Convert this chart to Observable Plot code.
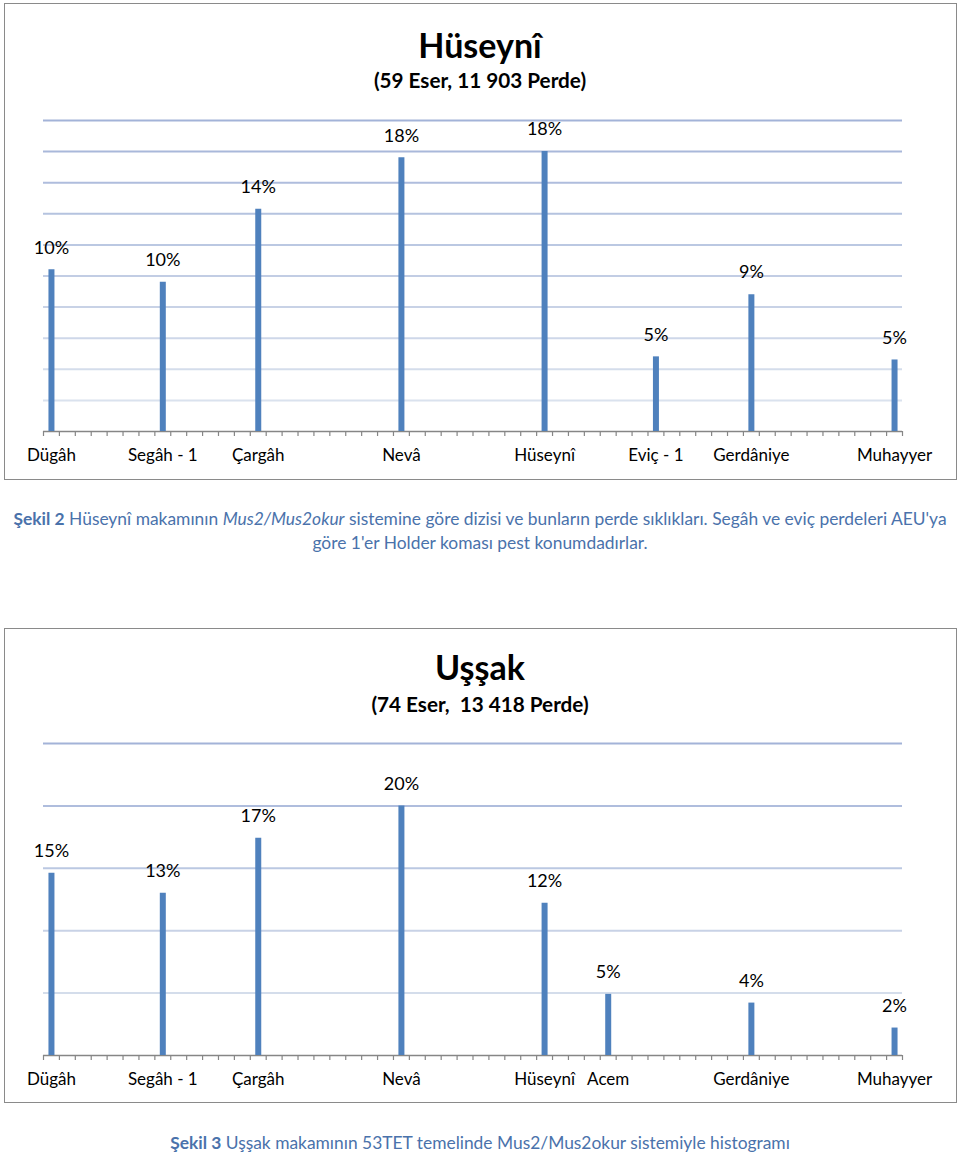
<!DOCTYPE html>
<html>
<head>
<meta charset="utf-8">
<script src="https://cdn.jsdelivr.net/npm/d3@7"></script>
<script src="https://cdn.jsdelivr.net/npm/@observablehq/plot@0.6"></script>
<style>
  html, body { margin: 0; padding: 0; background: #fff; }
  body { position: relative; width: 960px; height: 1161px; font-family: Lato, "Open Sans", sans-serif; overflow: hidden; }
  .box { position: absolute; left: 4px; width: 953px; box-sizing: border-box; border: 1.5px solid #8a8a8a; background: #fff; }
  .abs { position: absolute; left: 0; width: 960px; text-align: center; white-space: nowrap; color: #000; }
  .title { font-weight: 700; font-size: 34px; line-height: 40px; }
  .subtitle { font-weight: 700; font-size: 20.7px; line-height: 24px; }
  .caption { color: #4a72ab; font-size: 17.4px; line-height: 24px; }
  .caption b { font-weight: 700; }
  .chart { position: absolute; left: 0; }
  .chart svg { background: transparent !important; overflow: visible; }
</style>
</head>
<body>
<script>
// ---------- data ----------
const huseyniNotes  = ["Dügâh", "Segâh - 1", "Çargâh", "Nevâ", "Hüseynî", "Eviç - 1", "Gerdâniye", "Muhayyer"];
const huseyniSteps  = [0, 7, 13, 22, 31, 38, 44, 53];
const huseyniValues = [0.104, 0.096, 0.143, 0.176, 0.180, 0.048, 0.088, 0.046];

const ussakNotes  = ["Dügâh", "Segâh - 1", "Çargâh", "Nevâ", "Hüseynî", "Acem", "Gerdâniye", "Muhayyer"];
const ussakSteps  = [0, 7, 13, 22, 31, 35, 44, 53];
const ussakValues = [0.146, 0.130, 0.174, 0.200, 0.122, 0.049, 0.042, 0.022];

const huseyniGrid = [0.02, 0.04, 0.06, 0.08, 0.10, 0.12, 0.14, 0.16, 0.18, 0.20];
const ussakGrid   = [0.05, 0.10, 0.15, 0.20, 0.25];

// ---------- helpers ----------
function el(tag, cls, top, html) {
  const e = document.createElement(tag);
  e.className = cls;
  e.style.top = top + "px";
  e.innerHTML = html;
  document.body.appendChild(e);
  return e;
}

function makeChart({notes, steps, values, grid, yMax, top, height, marginTop, marginBottom}) {
  const data = notes.map((n, i) => ({note: n, step: steps[i], value: values[i]}));
  const gridColor = d3.interpolateRgb("#e0e7f0", "#a3b3d8");
  const catTicks = d3.range(-0.5, 54, 1);
  const chart = Plot.plot({
    width: 960,
    height,
    marginLeft: 43,
    marginRight: 58,
    marginTop,
    marginBottom,
    style: {background: "transparent", fontFamily: "Lato, sans-serif"},
    x: {domain: [-0.5, 53.5], axis: null},
    y: {domain: [0, yMax], axis: null},
    marks: [
      Plot.ruleY(grid, {y: d => d, stroke: d => gridColor(d / yMax), strokeWidth: 2}),
      Plot.ruleY([0], {stroke: "#868686", strokeWidth: 1.5}),
      Plot.axisX({ticks: catTicks, tickSize: 5, tickFormat: () => "", label: null, color: "#868686", strokeWidth: 1.2}),
      Plot.ruleX(data, {x: "step", y1: 0, y2: "value", stroke: "#4f81bd", strokeWidth: 6}),
      Plot.text(data, {x: "step", y: "value", text: d => d3.format(".0%")(d.value), dy: -22, fontSize: 18, fill: "#000"}),
      Plot.text(data, {x: "step", y: () => 0, text: "note", dy: 24, fontSize: 17, fill: "#000"})
    ]
  });
  const wrap = document.createElement("div");
  wrap.className = "chart";
  wrap.style.top = top + "px";
  wrap.appendChild(chart);
  document.body.appendChild(wrap);
}

// ---------- figure 2 : Hüseynî ----------
const b1 = el("div", "box", 3, "");
b1.style.height = "477px";
el("div", "abs title", 25, "Hüseynî");
el("div", "abs subtitle", 68, "(59 Eser, 11 903 Perde)");
makeChart({notes: huseyniNotes, steps: huseyniSteps, values: huseyniValues, grid: huseyniGrid,
  yMax: 0.20, top: 100, height: 378, marginTop: 20, marginBottom: 47});
el("div", "abs caption", 507,
  "<b>Şekil 2</b> Hüseynî makamının <i>Mus2/Mus2okur</i> sistemine göre dizisi ve bunların perde sıklıkları. Segâh ve eviç perdeleri AEU'ya<br>göre 1'er Holder koması pest konumdadırlar.");

// ---------- figure 3 : Uşşak ----------
const b2 = el("div", "box", 628, "");
b2.style.height = "475px";
el("div", "abs title", 647, "Uşşak");
el("div", "abs subtitle", 692, "(74 Eser,&nbsp; 13 418 Perde)");
makeChart({notes: ussakNotes, steps: ussakSteps, values: ussakValues, grid: ussakGrid,
  yMax: 0.25, top: 720, height: 382, marginTop: 23, marginBottom: 47});
el("div", "abs caption", 1131,
  "<b>Şekil 3</b> Uşşak makamının 53TET temelinde Mus2/Mus2okur sistemiyle histogramı");
</script>
</body>
</html>
